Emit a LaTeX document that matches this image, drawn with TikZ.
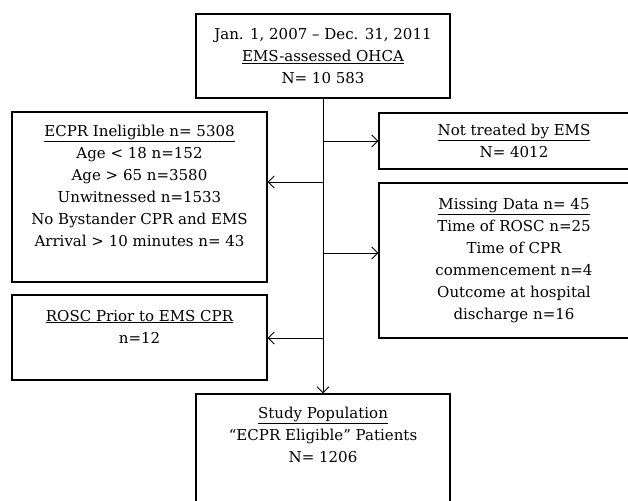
\documentclass[tikz,border=0pt]{standalone}
\usepackage{fontspec}
\setmainfont{DejaVu Serif}
\usetikzlibrary{arrows.meta,positioning}

\tikzset{
  box/.style={draw,line width=1.4pt,align=center,inner sep=2pt,
    font=\fontsize{15}{22}\selectfont},
  flow/.style={line width=0.9pt,-{Straight Barb[length=6pt,width=12pt,line width=0.9pt]}}
}

\begin{document}
\begin{tikzpicture}[x=1pt,y=-1pt]
\useasboundingbox (0,0) rectangle (628,500);
\clip (0,0) rectangle (628,500);
% boxes
\node[box,minimum width=254pt,minimum height=84pt] (ohca) at (323,56)
  {Jan. 1, 2007 -- Dec. 31, 2011\\ \underline{EMS-assessed OHCA}\\ N= 10 583};
\node[box,minimum width=255pt,minimum height=170pt] (inelig) at (139.5,197)
  {\underline{ECPR Ineligible n= 5308}\\ Age < 18 n=152\\ Age > 65 n=3580\\
   Unwitnessed n=1533\\ No Bystander CPR and EMS\\ Arrival > 10 minutes n= 43\\ ~};
\node[box,minimum width=270pt,minimum height=56pt] (notems) at (514,141)
  {\underline{Not treated by EMS}\\ N= 4012};
\node[box,minimum width=270pt,minimum height=155pt] (missing) at (514,260.5)
  {\underline{Missing Data n= 45}\\ Time of ROSC n=25\\ Time of CPR\\
   commencement n=4\\ Outcome at hospital\\ discharge n=16};
\node[box,minimum width=255pt,minimum height=85pt] (rosc) at (139.5,337.5)
  {\underline{ROSC Prior to EMS CPR}\\ n=12\\ ~};
\node[box,minimum width=254pt,minimum height=126pt] (study) at (323,457)
  {\underline{Study Population}\\ ``ECPR Eligible'' Patients\\ N= 1206\\ ~\\ ~};
% trunk and branches
\coordinate (t1) at (323,141);
\coordinate (t2) at (323,182);
\coordinate (t3) at (323,253);
\coordinate (t4) at (323,338);
\draw[flow] (ohca.south) -- (study.north);
\draw[flow] (t1) -- (notems.west |- t1);
\draw[flow] (t2) -- (inelig.east |- t2);
\draw[flow] (t3) -- (missing.west |- t3);
\draw[flow] (t4) -- (rosc.east |- t4);
\end{tikzpicture}
\end{document}
